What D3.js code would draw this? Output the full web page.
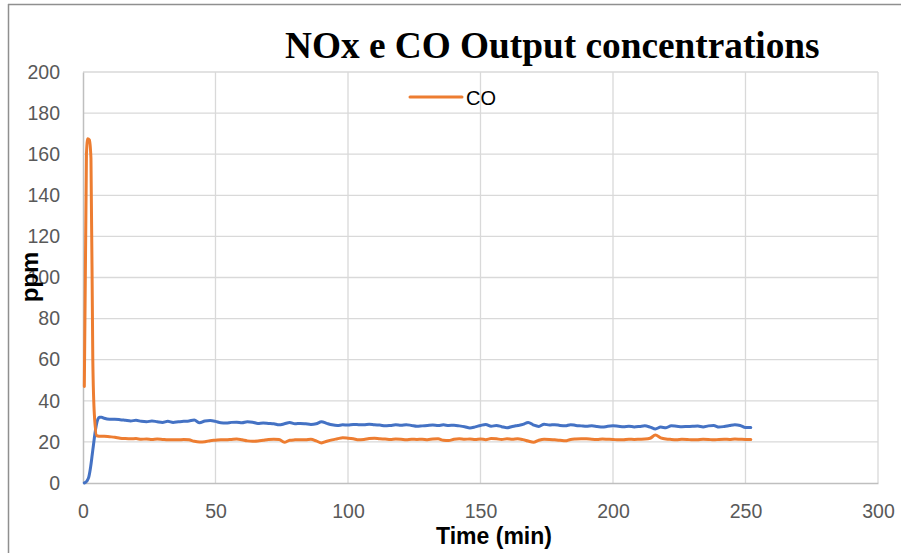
<!DOCTYPE html>
<html>
<head>
<meta charset="utf-8">
<script src="https://cdn.jsdelivr.net/npm/d3@7"></script>
<style>
  html, body { margin: 0; padding: 0; background: #fff; }
  svg { display: block; }
</style>
</head>
<body>
<svg id="chart" width="901" height="553"></svg>
<script>
// ---------- DATA ----------
const xTicks = [0, 50, 100, 150, 200, 250, 300];
const yTicks = [0, 20, 40, 60, 80, 100, 120, 140, 160, 180, 200];

// start-up phase (irregular sampling)
const noxStartTime = [0.5, 1.5, 2.2, 2.9, 3.5, 3.9, 4.5, 5, 5.6, 6.2, 7];
const noxStartVal  = [0, 1, 3, 8, 14, 18, 24, 28, 31, 32, 32];
const coStartTime  = [0.5, 1.3, 1.8, 2.4, 3.0, 3.7, 4.3, 5.2, 6];
const coStartVal   = [47, 160, 167.5, 167, 158, 60, 33, 23, 22.8];

// steady phase (min)
const timeMain = [8,10,12,14,16,18,20,22,24,26,28,30,32,34,36,38,40,42,44,46,48,50,
  52,54,56,58,60,62,64,66,68,70,72,74,76,78,80,82,84,86,88,90,92,94,96,98,100,
  102,104,106,108,110,112,114,116,118,120,122,124,126,128,130,132,134,136,138,140,
  142,144,146,148,150,152,154,156,158,160,162,164,166,168,170,172,174,176,178,180,
  182,184,186,188,190,192,194,196,198,200,202,204,206,208,210,212,214,216,218,220,
  222,224,226,228,230,232,234,236,238,240,242,244,246,248,250,252];

const noxMain = [31.5,31,31,30.8,30.5,30.2,30.5,30,29.8,30.2,29.8,29.5,30,29.5,29.8,30,30.2,30.6,29.3,30.2,30.4,30,
  29.3,29.2,29.5,29.6,29.3,29.8,29.6,29,29.2,29,28.8,28.3,28.8,29.4,28.8,29,28.8,28.5,28.8,29.8,29,28.3,28,28.3,28.2,
  28.5,28.4,28.3,28.6,28.3,28.2,27.8,28,28.3,28.1,28.4,28,27.6,27.8,28,28.2,28,28.3,28,28.1,
  27.8,27.4,26.8,27.3,28,28.5,27.6,28,27.4,26.9,27.5,28,28.5,29.5,28.2,27.5,28.6,28.2,28.4,28,
  27.8,28.4,28,27.8,27.6,27.8,27.5,27.2,27.6,27.8,27.6,27.4,27.6,27.3,27.5,27.8,27.2,26.3,27.2,26.9,
  27.8,27.6,27.4,27.5,27.6,27.7,27.3,27.8,28,27.2,27.5,28,28.4,28,27,27];

const coMain = [22.7,22.5,22.3,21.8,21.6,21.5,21.6,21.3,21.4,21.2,21.4,21.2,21,21.1,21,21.2,21,20.3,20,20.1,20.6,20.8,
  21,21,21.2,21.4,21,20.5,20.3,20.4,20.8,21.2,21.3,21.2,19.8,20.8,21,21.1,21,21.3,20.5,19.5,20.3,21,21.5,22,21.8,
  21.5,21,21.2,21.6,21.8,21.5,21.4,21.2,21.4,21.3,21.1,21.3,21.2,21.3,21.1,21.4,21.5,20.8,20.7,21.3,
  21.5,21.3,21.4,21.2,21.4,21.1,21.6,21.5,21.2,21.5,21.3,21.5,21.1,20.4,19.8,20.8,21.3,21.2,21,20.8,
  20.5,21.2,21.4,21.5,21.5,21.3,21.2,21.4,21.3,21.2,21,21.1,21.3,21.2,21.3,21.4,21.8,23.3,22,21.4,
  21.2,21.1,21.3,21.2,21,21.1,21.3,21.2,21,21.2,21.3,21.2,21.4,21.3,21.2,21.2];

// ---------- CHART ----------
const svg = d3.select("#chart");
const W = 901, H = 553;
const plot = { left: 83, right: 878, top: 72, bottom: 483 };

const x = d3.scaleLinear().domain([0, 300]).range([plot.left, plot.right]);
const y = d3.scaleLinear().domain([0, 200]).range([plot.bottom, plot.top]);

// outer frame (top + left visible)
svg.append("line").attr("x1", 8).attr("y1", 4.5).attr("x2", W).attr("y2", 4.5)
  .attr("stroke", "#8f8f8f").attr("stroke-width", 1.5);
svg.append("line").attr("x1", 8.5).attr("y1", 4).attr("x2", 8.5).attr("y2", H)
  .attr("stroke", "#8f8f8f").attr("stroke-width", 1.5);

// grid
const grid = svg.append("g");
grid.selectAll("line.h").data(yTicks.filter(d => d > 0)).join("line")
  .attr("x1", plot.left).attr("x2", plot.right)
  .attr("y1", d => y(d)).attr("y2", d => y(d))
  .attr("stroke", "#d9d9d9").attr("stroke-width", 1.3);
grid.selectAll("line.v").data(xTicks.filter(d => d > 0)).join("line")
  .attr("y1", plot.top).attr("y2", plot.bottom)
  .attr("x1", d => x(d)).attr("x2", d => x(d))
  .attr("stroke", "#d9d9d9").attr("stroke-width", 1.3);

// axes
const yAxis = d3.axisLeft(y).tickValues(yTicks).tickSize(0).tickPadding(23);
const xAxis = d3.axisBottom(x).tickValues(xTicks).tickSize(0).tickPadding(21);

const gy = svg.append("g").attr("transform", `translate(${plot.left},0)`).call(yAxis);
const gx = svg.append("g").attr("transform", `translate(0,${plot.bottom})`).call(xAxis);
[gx, gy].forEach(g => {
  g.select(".domain").attr("stroke", "#bfbfbf").attr("stroke-width", 1.5);
  g.selectAll("text").attr("fill", "#595959")
    .style("font-family", "'Liberation Sans', Arial, sans-serif")
    .style("font-size", "19.5px");
});

// lines
const noxData = noxStartTime.map((t, i) => [t, noxStartVal[i]])
  .concat(timeMain.map((t, i) => [t, noxMain[i]]).filter(d => d[1] !== undefined));
const coData = coStartTime.map((t, i) => [t, coStartVal[i]])
  .concat(timeMain.map((t, i) => [t, coMain[i]]).filter(d => d[1] !== undefined));

const line = d3.line().x(d => x(d[0])).y(d => y(d[1])).curve(d3.curveMonotoneX);

svg.append("path").datum(noxData).attr("d", line)
  .attr("fill", "none").attr("stroke", "#4472C4").attr("stroke-width", 3)
  .attr("stroke-linejoin", "round").attr("stroke-linecap", "round");
svg.append("path").datum(coData).attr("d", line)
  .attr("fill", "none").attr("stroke", "#ED7D31").attr("stroke-width", 3)
  .attr("stroke-linejoin", "round").attr("stroke-linecap", "round");

// title
svg.append("text").attr("x", 285).attr("y", 58)
  .style("font-family", "'Liberation Serif', 'Times New Roman', serif")
  .style("font-weight", "bold").style("font-size", "37.3px").attr("fill", "#000")
  .text("NOx e CO Output concentrations");

// legend
svg.append("line").attr("x1", 410).attr("x2", 462).attr("y1", 97).attr("y2", 97)
  .attr("stroke", "#ED7D31").attr("stroke-width", 3).attr("stroke-linecap", "round");
svg.append("text").attr("x", 466).attr("y", 105)
  .style("font-family", "'Liberation Sans', Arial, sans-serif").style("font-size", "20px")
  .attr("fill", "#000").text("CO");

// axis titles
svg.append("text").attr("x", 494).attr("y", 544).attr("text-anchor", "middle")
  .style("font-family", "'Liberation Sans', Arial, sans-serif").style("font-weight", "bold")
  .style("font-size", "23px").attr("fill", "#000").text("Time (min)");
svg.append("text").attr("transform", "translate(38,277) rotate(-90)").attr("text-anchor", "middle")
  .style("font-family", "'Liberation Sans', Arial, sans-serif").style("font-weight", "bold")
  .style("font-size", "24px").attr("fill", "#000").text("ppm");
</script>
</body>
</html>
